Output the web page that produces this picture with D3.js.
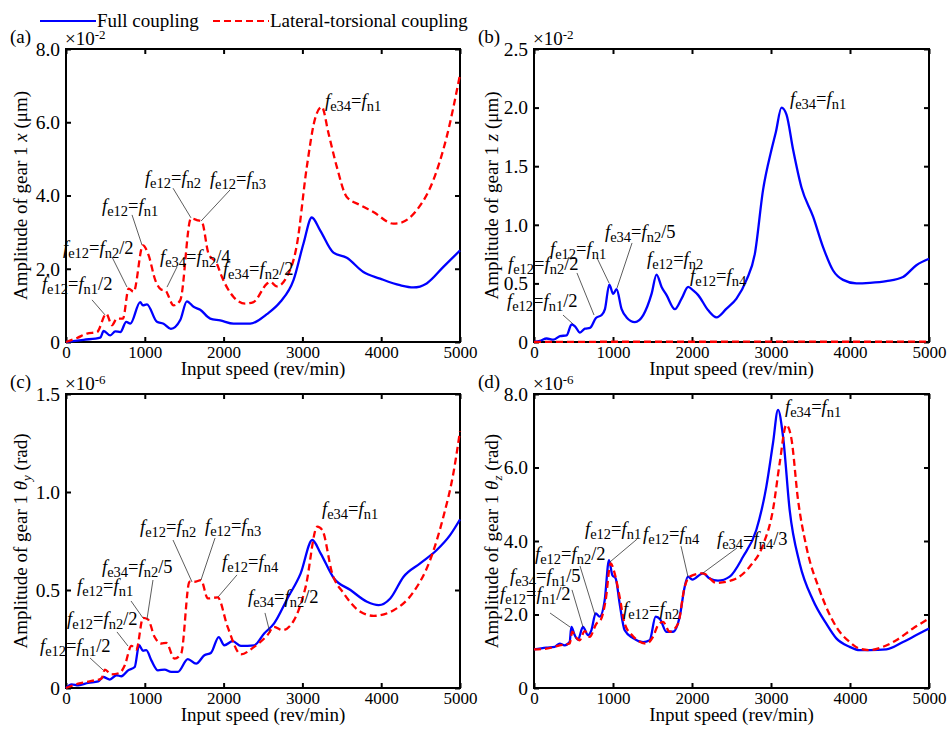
<!DOCTYPE html>
<html>
  <head>
    <meta charset="utf-8" />
    <script src="https://cdn.jsdelivr.net/npm/d3@7/dist/d3.min.js"></script>
    <style>
      body {
        margin: 0;
        background: #fff;
      }
      #chart,
      #chart text {
        font-family: "Liberation Serif", "Times New Roman", Times, "DejaVu Serif", serif;
      }
      #chart text {
        fill: #000;
      }
    </style>
  </head>
  <body>
    <svg id="chart" width="948" height="730"></svg>
    <script>
      // x axis shared by all four panels
      const speedTicks = [0, 1000, 2000, 3000, 4000, 5000];

      // y ticks per panel
      const yTicksA = [0, 2, 4, 6, 8], yLabelsA = ["0", "2.0", "4.0", "6.0", "8.0"];
      const yTicksB = [0, 0.5, 1, 1.5, 2, 2.5], yLabelsB = ["0", "0.5", "1.0", "1.5", "2.0", "2.5"];
      const yTicksC = [0, 0.5, 1, 1.5], yLabelsC = ["0", "0.5", "1.0", "1.5"];
      const yTicksD = [0, 2, 4, 6, 8], yLabelsD = ["0", "2.0", "4.0", "6.0", "8.0"];

      // [rev/min, amplitude]
      const fullA = [[0,0],[224,0.06],[435,0.12],[478,0.3],[562,0.18],[625,0.29],[689,0.27],[765,0.55],[816,0.5],[942,1.09],[976,1.0],[1027,1.03],[1154,0.55],[1238,0.5],[1331,0.36],[1450,0.6],[1534,1.11],[1619,0.96],[1703,0.88],[1830,0.64],[1957,0.59],[2126,0.5],[2337,0.5],[2549,0.76],[2718,1.09],[2887,1.69],[3014,2.69],[3119,3.4],[3225,3.05],[3394,2.44],[3563,2.3],[3774,1.91],[3986,1.73],[4239,1.55],[4408,1.49],[4577,1.6],[4789,2.05],[5000,2.5]];
      const lateralA = [[0,0],[140,0.11],[266,0.23],[393,0.27],[511,0.77],[583,0.46],[647,0.64],[723,0.64],[795,1.46],[858,1.37],[976,2.64],[1048,2.37],[1133,1.69],[1209,1.43],[1259,1.41],[1365,1.0],[1450,1.14],[1585,3.37],[1661,3.33],[1724,3.28],[1809,2.41],[1914,2.14],[1978,1.78],[2126,1.23],[2274,1.05],[2380,1.09],[2549,1.59],[2591,1.64],[2676,1.52],[2802,1.78],[2929,2.64],[3056,4.78],[3161,6.1],[3246,6.42],[3331,5.7],[3437,4.78],[3563,3.96],[3732,3.74],[3901,3.55],[4155,3.23],[4239,3.25],[4451,3.6],[4662,4.42],[4831,5.6],[5000,7.3]];

      const fullB = [[0,0],[76,0.01],[160,0.03],[245,0.02],[329,0.05],[413,0.057],[476,0.15],[519,0.134],[582,0.08],[645,0.114],[708,0.12],[784,0.205],[856,0.23],[898,0.28],[953,0.49],[1003,0.41],[1045,0.45],[1109,0.28],[1172,0.21],[1277,0.17],[1383,0.23],[1488,0.41],[1551,0.575],[1615,0.47],[1678,0.4],[1783,0.28],[1868,0.37],[1952,0.47],[2015,0.44],[2078,0.4],[2205,0.27],[2310,0.21],[2437,0.285],[2563,0.37],[2690,0.53],[2795,0.75],[2900,1.3],[3006,1.64],[3061,1.79],[3133,2.0],[3196,1.94],[3280,1.64],[3385,1.32],[3533,1.07],[3659,0.81],[3786,0.61],[3912,0.53],[4081,0.5],[4250,0.505],[4460,0.52],[4671,0.555],[4840,0.655],[5000,0.71]];
      const lateralB = [[0,0],[1000,0.002],[2000,0.002],[3000,0.003],[4000,0.002],[5000,0.003]];

      const fullC = [[0,0],[72,0.019],[156,0.014],[282,0.026],[409,0.034],[472,0.056],[556,0.043],[640,0.065],[703,0.06],[788,0.09],[872,0.107],[927,0.218],[977,0.19],[1019,0.193],[1083,0.141],[1167,0.09],[1251,0.094],[1335,0.082],[1420,0.082],[1546,0.147],[1651,0.124],[1756,0.167],[1841,0.18],[1938,0.26],[2009,0.218],[2115,0.239],[2220,0.215],[2388,0.218],[2515,0.278],[2641,0.33],[2810,0.457],[2978,0.585],[3125,0.755],[3231,0.687],[3399,0.56],[3610,0.5],[3820,0.44],[3968,0.423],[4115,0.457],[4284,0.568],[4494,0.636],[4705,0.704],[4874,0.78],[5000,0.86]];
      const lateralC = [[0,0],[156,0.022],[324,0.036],[451,0.048],[493,0.094],[577,0.07],[682,0.077],[746,0.116],[830,0.215],[893,0.196],[977,0.358],[1040,0.35],[1125,0.26],[1209,0.227],[1272,0.23],[1377,0.15],[1462,0.176],[1567,0.542],[1630,0.542],[1714,0.55],[1799,0.457],[1925,0.462],[2051,0.312],[2220,0.172],[2388,0.21],[2557,0.27],[2641,0.312],[2746,0.295],[2894,0.346],[3041,0.516],[3189,0.823],[3252,0.806],[3378,0.585],[3526,0.482],[3736,0.389],[3905,0.368],[4158,0.397],[4410,0.49],[4621,0.653],[4789,0.874],[4916,1.096],[5000,1.31]];

      const fullD = [[0,1.05],[156,1.1],[262,1.12],[325,1.21],[388,1.16],[451,1.25],[473,1.66],[515,1.44],[557,1.32],[620,1.66],[684,1.44],[726,1.57],[781,2.03],[831,1.94],[895,2.39],[949,3.48],[992,3.07],[1034,2.98],[1084,2.3],[1148,1.57],[1253,1.36],[1380,1.25],[1464,1.3],[1540,1.94],[1599,1.86],[1675,1.53],[1759,1.53],[1844,1.94],[1907,2.75],[1949,3.03],[2004,2.95],[2139,3.12],[2224,2.98],[2329,2.92],[2477,3.03],[2646,3.57],[2814,4.3],[2941,5.48],[3025,6.66],[3089,7.57],[3152,6.85],[3236,4.85],[3363,3.39],[3532,2.39],[3700,1.75],[3827,1.35],[3996,1.12],[4122,1.03],[4249,1.03],[4460,1.05],[4671,1.25],[4840,1.44],[5000,1.62]];
      const lateralD = [[0,1.05],[156,1.07],[325,1.16],[451,1.21],[485,1.53],[527,1.39],[578,1.3],[641,1.55],[705,1.39],[789,1.75],[844,1.85],[907,2.39],[970,3.39],[1021,3.12],[1084,2.48],[1148,1.75],[1253,1.41],[1422,1.21],[1506,1.39],[1570,1.71],[1633,1.8],[1717,1.53],[1823,1.75],[1907,2.75],[1970,3.03],[2139,3.12],[2308,2.86],[2519,2.94],[2730,3.3],[2899,3.89],[3025,4.85],[3110,6.12],[3194,7.16],[3257,6.8],[3342,5.12],[3447,3.85],[3616,2.66],[3827,1.66],[3996,1.25],[4122,1.07],[4249,1.03],[4418,1.12],[4586,1.3],[4797,1.62],[5000,1.89]];

      // annotations: [sub1, sub2, suffix, textX, textY, lineX1, lineY1, lineX2, lineY2] in data units
      const notesA = [
        ["e12", "n1", "/2", -305, 1.42, 330, 1.15, 495, 0.74],
        ["e12", "n2", "/2", -38, 2.4, 584, 2.32, 774, 1.5],
        ["e12", "n1", "", 457, 3.55, 838, 3.47, 964, 2.65],
        ["e34", "n2", "/4", 1193, 2.16, 1409, 2.05, 1282, 1.5],
        ["e12", "n2", "", 1002, 4.31, 1358, 4.2, 1586, 3.39],
        ["e12", "n3", "", 1827, 4.29, 2081, 4.15, 1713, 3.3],
        ["e34", "n2", "/2", 1992, 1.83],
        ["e34", "n1", "", 3287, 6.42]
      ];
      const notesB = [
        ["e34", "n1", "", 3241, 2.02],
        ["e34", "n2", "/5", 899, 0.887, 1241, 0.845, 1051, 0.461],
        ["e12", "n1", "", 203, 0.742, 798, 0.717, 950, 0.503],
        ["e12", "n2", "/2", -329, 0.614, 544, 0.589, 760, 0.23],
        ["e12", "n1", "/2", -342, 0.299, 367, 0.23, 494, 0.154],
        ["e12", "n2", "", 1431, 0.657],
        ["e12", "n4", "", 1975, 0.512]
      ];
      const notesC = [
        ["e34", "n1", "", 3249, 0.883],
        ["e12", "n2", "", 939, 0.791, 1358, 0.755, 1599, 0.541],
        ["e12", "n3", "", 1764, 0.796, 1891, 0.765, 1713, 0.551],
        ["e12", "n4", "", 1980, 0.612, 2170, 0.577, 1929, 0.464],
        ["e34", "n2", "/5", 457, 0.587, 1104, 0.551, 1028, 0.352],
        ["e12", "n1", "", 140, 0.49, 825, 0.444, 977, 0.357],
        ["e12", "n2", "/2", 13, 0.321, 647, 0.286, 787, 0.214],
        ["e12", "n1", "/2", -330, 0.184, 305, 0.153, 470, 0.092],
        ["e34", "n2", "/2", 2310, 0.434, 2525, 0.383, 2589, 0.281]
      ];
      const notesD = [
        ["e34", "n1", "", 3178, 7.48],
        ["e12", "n1", "", 646, 4.16, 1304, 4.05, 962, 3.43],
        ["e12", "n4", "", 1380, 4.03, 1861, 3.86, 1950, 3.02],
        ["e34", "n4", "/3", 2317, 3.89, 2570, 3.81, 2140, 3.13],
        ["e12", "n2", "/2", 13, 3.48, 582, 3.32, 772, 1.99],
        ["e34", "n1", "/5", -304, 2.88, 481, 2.67, 620, 1.66],
        ["e12", "n1", "/2", -430, 2.39, 203, 2.04, 456, 1.66],
        ["e12", "n2", "", 1127, 1.99]
      ];

      const svg = d3.select("#chart");

      const panels = [
        { tag: "(a)", left: 66, top: 49, w: 394, h: 293, yMax: 8, ticks: yTicksA, labels: yLabelsA, exp: "-2",
          sym: "x", sub: "", unit: "(μm)", full: fullA, lateral: lateralA, notes: notesA },
        { tag: "(b)", left: 534, top: 49, w: 395, h: 293, yMax: 2.5, ticks: yTicksB, labels: yLabelsB, exp: "-2",
          sym: "z", sub: "", unit: "(μm)", full: fullB, lateral: lateralB, notes: notesB },
        { tag: "(c)", left: 66, top: 394, w: 394, h: 294, yMax: 1.5, ticks: yTicksC, labels: yLabelsC, exp: "-6",
          sym: "θ", sub: "y", unit: "(rad)", full: fullC, lateral: lateralC, notes: notesC },
        { tag: "(d)", left: 534, top: 394, w: 395, h: 294, yMax: 8, ticks: yTicksD, labels: yLabelsD, exp: "-6",
          sym: "θ", sub: "z", unit: "(rad)", full: fullD, lateral: lateralD, notes: notesD }
      ];

      function fLabel(sel, n, fs, sfs) {
        sel.append("tspan").attr("font-style", "italic").attr("font-size", fs).text("f");
        sel.append("tspan").attr("font-size", sfs).attr("dy", 4).text(n[0]);
        sel.append("tspan").attr("font-size", fs).attr("dy", -4).text("=");
        sel.append("tspan").attr("font-style", "italic").attr("font-size", fs).text("f");
        sel.append("tspan").attr("font-size", sfs).attr("dy", 4).text(n[1]);
        if (n[2]) sel.append("tspan").attr("font-size", fs).attr("dy", -4).text(n[2]);
      }

      panels.forEach(p => {
        const g = svg.append("g").attr("transform", `translate(${p.left},${p.top})`);
        const x = d3.scaleLinear().domain([0, 5000]).range([0, p.w]);
        const y = d3.scaleLinear().domain([0, p.yMax]).range([p.h, 0]);

        // axes, ticks pointing inward on every side
        const bottom = g.append("g").attr("transform", `translate(0,${p.h})`)
          .call(d3.axisBottom(x).tickValues(speedTicks).tickSize(-5).tickSizeOuter(0).tickPadding(4)
            .tickFormat(d3.format("d")));
        bottom.selectAll("text").attr("font-size", 17);
        const top = g.append("g").call(d3.axisTop(x).tickValues(speedTicks).tickSize(-5).tickSizeOuter(0).tickFormat(""));
        const left = g.append("g")
          .call(d3.axisLeft(y).tickValues(p.ticks).tickSize(-5).tickSizeOuter(0).tickPadding(6)
            .tickFormat((d, i) => p.labels[i]));
        left.selectAll("text").attr("font-size", 19.5);
        const right = g.append("g").attr("transform", `translate(${p.w},0)`)
          .call(d3.axisRight(y).tickValues(p.ticks).tickSize(-5).tickSizeOuter(0).tickFormat(""));
        [bottom, top, left, right].forEach(a => {
          a.attr("font-family", null).attr("font-size", null);
          a.select(".domain").remove();
          a.selectAll("line").attr("stroke", "#000").attr("stroke-width", 2);
        });

        g.append("rect").attr("width", p.w).attr("height", p.h)
          .attr("fill", "none").attr("stroke", "#000").attr("stroke-width", 2);

        const line = d3.line().x(d => x(d[0])).y(d => y(d[1])).curve(d3.curveMonotoneX);
        g.append("path").datum(p.full).attr("d", line)
          .attr("fill", "none").attr("stroke", "#0000ff").attr("stroke-width", 2.3);
        g.append("path").datum(p.lateral).attr("d", line)
          .attr("fill", "none").attr("stroke", "#ff0000").attr("stroke-width", 2.3)
          .attr("stroke-dasharray", "7,4");

        // annotations
        p.notes.forEach(n => {
          if (n.length > 5) {
            g.append("line")
              .attr("x1", x(n[5])).attr("y1", y(n[6]))
              .attr("x2", x(n[7])).attr("y2", y(n[8]))
              .attr("stroke", "#333").attr("stroke-width", 0.8);
          }
          const t = g.append("text").attr("x", x(n[3])).attr("y", y(n[4]));
          fLabel(t, n, 18.5, 14.5);
        });

        // labels
        g.append("text").attr("x", -56).attr("y", -6).attr("font-size", 19).text(p.tag);
        const e = g.append("text").attr("x", -1).attr("y", -4).attr("font-size", 19);
        e.append("tspan").text("×10");
        e.append("tspan").attr("font-size", 13).attr("dy", -6).text(p.exp);

        g.append("text").attr("x", p.w / 2).attr("y", p.h + 33)
          .attr("text-anchor", "middle").attr("font-size", 19).text("Input speed (rev/min)");

        const yl = g.append("text")
          .attr("transform", `translate(${p.left > 100 ? -36 : -39},${p.h / 2}) rotate(-90)`)
          .attr("text-anchor", "middle").attr("font-size", 19);
        yl.append("tspan").text("Amplitude of gear 1 ");
        yl.append("tspan").attr("font-style", "italic").text(p.sym);
        if (p.sub) {
          yl.append("tspan").attr("font-style", "italic").attr("font-size", 13).attr("dy", 4).text(p.sub);
          yl.append("tspan").attr("dy", -4).text(" " + p.unit);
        } else {
          yl.append("tspan").text(" " + p.unit);
        }
      });

      // legend
      const legend = svg.append("g");
      const legendItems = [
        { name: "Full coupling", color: "#0000ff", dash: null, x0: 40 },
        { name: "Lateral-torsional coupling", color: "#ff0000", dash: "7,4", x0: 213 }
      ];
      legendItems.forEach(d => {
        legend.append("line").attr("x1", d.x0).attr("x2", d.x0 + 56).attr("y1", 21).attr("y2", 21)
          .attr("stroke", d.color).attr("stroke-width", 2).attr("stroke-dasharray", d.dash);
        legend.append("text").attr("x", d.x0 + 57).attr("y", 27).attr("font-size", 19).text(d.name);
      });
    </script>
  </body>
</html>
